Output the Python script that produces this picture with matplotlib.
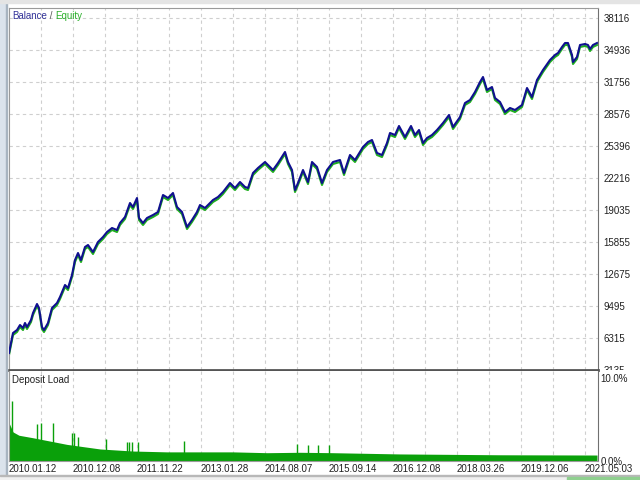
import matplotlib as mpl

mpl.use('agg')

import matplotlib.pyplot as plt
from matplotlib.patches import Rectangle
from matplotlib.transforms import Bbox, TransformedBbox, offset_copy

plt.rcParams['font.family'] = ['Liberation Sans', 'DejaVu Sans']
plt.rcParams['font.size'] = 7

# balance curve, x = trade number
trades = [0, 20, 40, 55, 70, 80, 90, 110, 120, 140, 150, 165, 175, 195, 215, 240, 255, 280, 295, 315,
          330, 345, 360, 380, 395, 420, 445, 470, 490, 515, 540, 555, 580, 605, 620, 640, 650, 670, 690, 720,
          745, 770, 795, 820, 840, 865, 890, 915, 940, 955, 980, 1020, 1045, 1070, 1105, 1130, 1155, 1180, 1195, 1220,
          1245, 1280, 1305, 1320, 1345, 1380, 1395, 1415, 1430, 1445, 1470, 1495, 1515, 1540, 1565, 1590, 1620, 1655, 1675, 1705,
          1730, 1770, 1795, 1815, 1840, 1865, 1890, 1905, 1930, 1950, 1980, 2010, 2030, 2050, 2070, 2090, 2115, 2140, 2170, 2200,
          2220, 2255, 2280, 2305, 2330, 2355, 2370, 2390, 2415, 2430, 2455, 2480, 2505, 2530, 2565, 2590, 2615, 2640, 2670, 2705,
          2730, 2745, 2765, 2780, 2795, 2815, 2820, 2840, 2855, 2880, 2895, 2905, 2920, 2940]
balance = [4824, 6812, 7110, 7607, 7309, 7806, 7408, 8104, 8800, 9694, 9297, 7408, 7110, 7806, 9297, 9793, 10390, 11582, 11284, 12576,
           14067, 14762, 14067, 15359, 15558, 14862, 15856, 16353, 16849, 17247, 17048, 17744, 18340, 19731, 19334, 20228, 18241, 17744, 18241, 18539,
           18837, 20527, 20228, 20725, 19334, 18837, 17346, 18042, 18837, 19533, 19235, 20030, 20328, 20825, 21719, 21222, 21818, 21322, 21222, 22713,
           23210, 23806, 23309, 23011, 23707, 24800, 23806, 23011, 21023, 21719, 23011, 21818, 23806, 23309, 21719, 23011, 23806, 24005, 22713, 24502,
           24005, 25297, 25794, 25992, 24700, 24502, 25694, 26688, 26489, 27384, 26291, 27384, 26489, 26986, 25694, 26191, 26489, 26986, 27682, 28477,
           27284, 28278, 29669, 29968, 30763, 31756, 32253, 30961, 31260, 30166, 29769, 28775, 29173, 28974, 29471, 31160, 30266, 31955, 32949, 33943,
           34440, 34638, 35235, 35632, 35632, 34440, 33744, 34241, 35434, 35533, 35434, 35036, 35434, 35632]

# deposit load (%)
load_trades = [0, 20, 50, 120, 290, 455, 620, 790, 1120, 1290, 1455, 1620, 1955, 2455, 2940]
load_pct = [4.6, 3.5, 3.1, 2.8, 2.0, 1.45, 1.2, 1.1, 1.1, 1.0, 1.05, 1.0, 0.85, 0.75, 0.72]
spike_trades = [15, 140, 160, 220, 315, 325, 345, 485, 590, 600, 615, 645, 875, 1440, 1495, 1545, 1600]
spike_pct = [7.2, 4.5, 4.6, 4.6, 3.4, 3.4, 2.9, 2.65, 2.3, 2.3, 2.3, 2.3, 2.4, 2.05, 1.9, 1.9, 1.9]

y_ticks = [3135, 6315, 9495, 12675, 15855, 19035, 22216, 25396, 28576, 31756, 34936, 38116]
date_labels = ['2010.01.12', '2010.12.08', '2011.11.22', '2013.01.28', '2014.08.07',
               '2015.09.14', '2016.12.08', '2018.03.26', '2019.12.06', '2021.05.03']
grid_step = 160

W, H = 640, 480
fig = plt.figure(figsize=(6.4, 4.8), dpi=100)

# window chrome
fig.patches.append(Rectangle((0, 0), 6 / W, 1, transform=fig.transFigure, color='#dbe3ec', zorder=0))
fig.patches.append(Rectangle((6 / W, 0), 1 / W, 1, transform=fig.transFigure, color='#a8b4c0', zorder=0))
fig.patches.append(Rectangle((0, 1 - 3 / H), 1, 3 / H, transform=fig.transFigure, color='#e4e4e4', zorder=0))
fig.patches.append(Rectangle((0, 0), 1, 4 / H, transform=fig.transFigure, color='#f0f0f0', zorder=0))
fig.patches.append(Rectangle((0, 4 / H), 1, 1 / H, transform=fig.transFigure, color='#b8b8b8', zorder=0))
fig.patches.append(Rectangle((567 / W, 0), 73 / W, 3 / H, transform=fig.transFigure, color='#8fd08f', zorder=0))

left, right = 9 / W, 598 / W
ax = fig.add_axes([left, 1 - 370 / H, right - left, 362 / H])
ax2 = fig.add_axes([left, 1 - 461 / H, right - left, 90 / H])

xmax = 2945
grid_x = list(range(grid_step, 2941, grid_step))

# main panel
eq_tr = offset_copy(ax.transData, fig=fig, x=0, y=-2, units='dots')
ax.plot(trades, balance, color='#1fae1f', lw=1.5, transform=eq_tr, zorder=2)
ax.plot(trades, balance, color='#10108f', lw=1.5, zorder=3)
ax.set_xlim(0, xmax)
ax.set_ylim(3135, 3135 + 362 / 32 * 3180.1)
ax.set_yticks(y_ticks, [str(v) for v in y_ticks])
ax.set_xticks(grid_x, [''] * len(grid_x))
ax.yaxis.tick_right()
ax.tick_params(axis='y', length=0, pad=4, colors='#202020', labelsize=7)
ax.tick_params(axis='x', length=0)
ax.grid(True, color='#cfcfcf', ls=(0, (3, 3)), lw=0.8)
for t in ax.get_yticklabels():
    t.set_horizontalalignment('left')
for s in ['left', 'top']:
    ax.spines[s].set_color('#9a9a9a')
ax.spines['right'].set_color('#707070')
ax.spines['bottom'].set_color('#555555')
ax.spines['bottom'].set_linewidth(2)

# clip the lowest label under the separator
lowest = ax.yaxis.get_major_ticks()[0].label2
lowest.set_clip_box(TransformedBbox(Bbox([[0, 1 - 370 / H], [1, 1]]), fig.transFigure))
lowest.set_clip_on(True)

t1 = fig.text(12.5 / W, 1 - 16 / H, 'Balance', color='#33339a', va='center', fontsize=7)
t2 = fig.text(0, 0, ' / ', color='#555555', va='center', fontsize=7)
t3 = fig.text(0, 0, 'Equity', color='#2cb02c', va='center', fontsize=7)
fig.canvas.draw()
r = fig.canvas.get_renderer()
bb1 = t1.get_window_extent(r)
t2.set_position((bb1.x1 / W, 1 - 16 / H))
bb2 = t2.get_window_extent(r)
t3.set_position((bb2.x1 / W, 1 - 16 / H))

# deposit load panel
ax2.fill_between(load_trades, 0, load_pct, color='#0aa00a', lw=0, zorder=2)
ax2.vlines(spike_trades, 0, spike_pct, color='#0aa00a', lw=1, zorder=2)
ax2.set_xlim(0, xmax)
ax2.set_ylim(0, 10 + 7 / 8.3)
ax2.set_yticks([0, 10], ['0.0%', '10.0%'])
ax2.yaxis.tick_right()
ax2.tick_params(axis='y', length=0, pad=2, colors='#202020', labelsize=7)
for t in ax2.get_yticklabels():
    t.set_horizontalalignment('left')
xlabels = [date_labels[i // 2] if i % 2 == 0 else '' for i in range(len(grid_x) + 1)]
ax2.set_xticks([0] + grid_x, xlabels)
ax2.tick_params(axis='x', length=0, pad=2.5, colors='#202020', labelsize=7)
for t in ax2.get_xticklabels():
    t.set_horizontalalignment('left')
ax2.grid(True, axis='x', color='#cfcfcf', ls=(0, (3, 3)), lw=0.8)
ax2.spines['top'].set_visible(False)
ax2.spines['left'].set_color('#9a9a9a')
ax2.spines['bottom'].set_color('#9a9a9a')
ax2.spines['right'].set_color('#707070')
ax2.set_axisbelow(True)

fig.text(12.5 / W, 1 - 380 / H, 'Deposit Load', color='#202020', va='center', fontsize=7)

fig.savefig('out.png', dpi=100)
